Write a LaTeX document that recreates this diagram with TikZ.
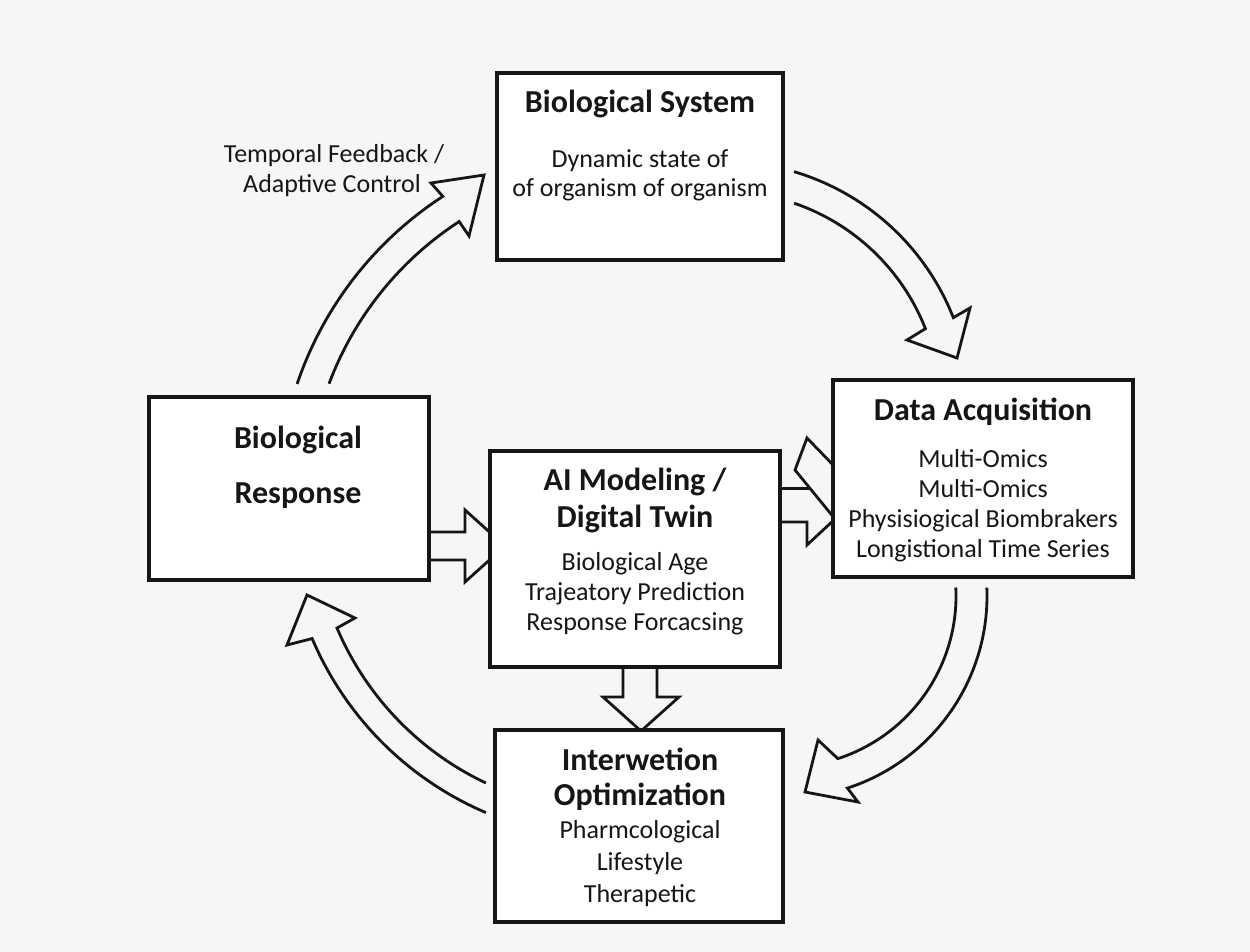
\documentclass[tikz,border=0pt]{standalone}
\usepackage{fontspec}
\setmainfont{Carlito}
\usetikzlibrary{calc}
\definecolor{paper}{RGB}{246,246,246}
\definecolor{ink}{RGB}{22,22,22}
\pgfdeclarelayer{paperlayer}
\pgfdeclarelayer{arrowlayer}
\pgfsetlayers{paperlayer,arrowlayer,main}

% curved block arrow: shaft made of two concentric arcs, open tail, open head
% #1 centre, #2 outer radius, #3 inner radius, #4 outer tail angle,
% #5 inner tail angle, #6 head base angle, #7 outer barb, #8 tip, #9 inner barb
\newcommand\blockarc[9]{%
  \draw[blk] ($(#1)+(#4:#2)$) arc[start angle=#4, end angle=#6, radius=#2]
    -- (#7) -- (#8) -- (#9)
    -- ($(#1)+(#6:#3)$) arc[start angle=#6, end angle=#5, radius=#3];}

\begin{document}
\begin{tikzpicture}[x=1pt,y=1pt,
  box/.style={draw=ink, line width=3.2pt, fill=white, inner sep=0pt},
  ttl/.style={font=\fontsize{32}{38}\selectfont\bfseries, text=ink, anchor=base, inner sep=0pt},
  txt/.style={font=\fontsize{26}{30}\selectfont, text=ink, anchor=base, inner sep=0pt},
  blk/.style={draw=ink, line width=2.8pt, line join=miter, miter limit=10}]

\begin{pgfonlayer}{paperlayer}
  \fill[paper] (0,0) rectangle (1250,-952);
\end{pgfonlayer}
\useasboundingbox (0,0) rectangle (1250,-952);

% boxes
\node[box, minimum width=286, minimum height=187] (sys)  at (640,-166.5) {};
\node[box, minimum width=300, minimum height=197] (acq)  at (983,-478.5) {};
\node[box, minimum width=280, minimum height=183] (resp) at (289,-488.5) {};
\node[box, minimum width=290, minimum height=216] (ai)   at (635,-559) {};
\node[box, minimum width=288, minimum height=192] (opt)  at (639,-826) {};

% texts
\node[ttl] (sysT)  at (640,-113) {Biological System};
\node[txt] (sysB1) at (640,-168) {Dynamic state of};
\node[txt] (sysB2) at (640,-197) {of organism of organism};

\node[txt] (fbL1) at (334,-163) {Temporal Feedback /};
\node[txt] (fbL2) at (332,-193) {Adaptive Control};

\node[ttl] (acqT)  at (983,-420) {Data Acquisition};
\node[txt] (acqB1) at (983,-467) {Multi-Omics};
\node[txt] (acqB2) at (983,-497) {Multi-Omics};
\node[txt] (acqB3) at (983,-527) {Physisiogical Biombrakers};
\node[txt] (acqB4) at (983,-557) {Longistional Time Series};

\node[ttl] (respT1) at (298,-448) {Biological};
\node[ttl] (respT2) at (298,-503) {Response};

\node[ttl] (aiT1) at (635,-490) {AI Modeling /};
\node[ttl] (aiT2) at (635,-527) {Digital Twin};
\node[txt] (aiB1) at (635,-570) {Biological Age};
\node[txt] (aiB2) at (635,-600) {Trajeatory Prediction};
\node[txt] (aiB3) at (635,-630) {Response Forcacsing};

\node[ttl] (optT1) at (640,-770) {Interwetion};
\node[ttl] (optT2) at (640,-805) {Optimization};
\node[txt] (optB1) at (640,-838) {Pharmcological};
\node[txt] (optB2) at (640,-870) {Lifestyle};
\node[txt] (optB3) at (640,-902) {Therapetic};

\begin{pgfonlayer}{arrowlayer}
  % centres of the curved arrows
  \coordinate (cFb)  at (640,-500);
  \coordinate (cSys) at (724,-408);
  \coordinate (cAcq) at (785,-596);
  \coordinate (cOpt) at (615,-510);

  % response -> system (temporal feedback)
  \blockarc{cFb}{362}{332}{161.3}{159.5}{123}{431,-183}{484,-175}{469,-236}
  % system -> acquisition
  \blockarc{cSys}{246.5}{216.5}{73.5}{71.1}{21.5}{970,-308}{957,-358}{907,-340}
  % acquisition -> optimization
  \blockarc{cAcq}{202}{171}{2.4}{2.85}{-72}{858,-802}{805,-792}{818,-740}
  % optimization -> response
  \blockarc{cOpt}{329}{302}{246.9}{244.7}{203}{287,-645}{307,-595}{355,-618}

  % response -> AI model
  \draw[blk] (resp.east |- 0,-532) -- (465,-532) -- (465,-510) -- (505,-546)
    -- (465,-582) -- (465,-560) -- (resp.east |- 0,-560);
  % AI model -> acquisition (doubled head)
  \draw[blk] (ai.east |- 0,-522) -- (807,-522) -- (807,-545) -- (835,-519)
    -- (795,-470) -- (807,-438) -- (836,-468);
  \draw[blk] (809.5,-488.5) -- (ai.east |- 0,-488.5);
  % AI model -> optimization
  \draw[blk] (ai.south -| 623,0) -- (623,-697) -- (603,-697) -- (641,-731)
    -- (679,-697) -- (657,-697) -- (ai.south -| 657,0);
\end{pgfonlayer}
\end{tikzpicture}
\end{document}
